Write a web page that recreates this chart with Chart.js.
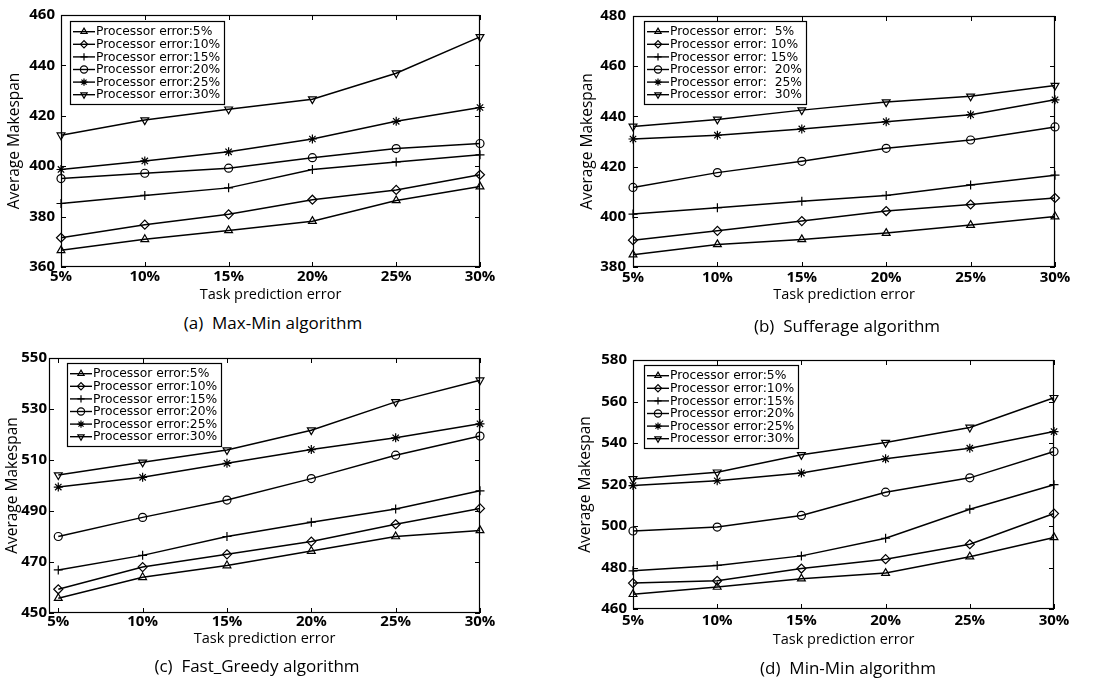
<!DOCTYPE html>
<html>
<head>
<meta charset="utf-8">
<script src="https://cdn.jsdelivr.net/npm/chart.js@4.4.1/dist/chart.umd.min.js"></script>
<style>
  body { margin: 0; background: #fff; width: 1112px; height: 679px; position: relative; overflow: hidden; font-family: 'Open Sans', sans-serif; }
  .panel { position: absolute; }
  .caption { position: absolute; font-size: 17px; color: #000; white-space: pre; transform: translate(-50%, -50%); }
</style>
</head>
<body>
<div class="panel" style="left:0;top:0"><canvas id="graficaMaxMin" width="556" height="310"></canvas></div>
<div class="panel" style="left:556px;top:0"><canvas id="graficaSufferage" width="556" height="310"></canvas></div>
<div class="panel" style="left:0;top:335px"><canvas id="graficaFastGreedy" width="556" height="335"></canvas></div>
<div class="panel" style="left:556px;top:335px"><canvas id="graficaMinMin" width="556" height="335"></canvas></div>
<div class="caption" style="left:273px;top:322px">(a)  Max-Min algorithm</div>
<div class="caption" style="left:847px;top:325px">(b)  Sufferage algorithm</div>
<div class="caption" style="left:257px;top:665px">(c)  Fast_Greedy algorithm</div>
<div class="caption" style="left:848px;top:667px">(d)  Min-Min algorithm</div>
<script>
// ========== DATOS ==========
const taskErrors = [5, 10, 15, 20, 25, 30];
const processorLabels = ['Processor error:5%', 'Processor error:10%', 'Processor error:15%',
  'Processor error:20%', 'Processor error:25%', 'Processor error:30%'];
const processorLabelsB = ['Processor error:  5%', 'Processor error: 10%', 'Processor error: 15%',
  'Processor error:  20%', 'Processor error:  25%', 'Processor error:  30%'];

const ticksMaxMin = [360, 380, 400, 420, 440, 460];
const ticksSufferage = [380, 400, 420, 440, 460, 480];
const ticksFastGreedy = [450, 470, 490, 510, 530, 550];
const ticksMinMin = [460, 480, 500, 520, 540, 560, 580];

// (a) Max-Min
const maxMinP5 = [366.6, 371, 374.5, 378.2, 386.4, 391.9];
const maxMinP10 = [371.6, 376.8, 380.9, 386.7, 390.6, 396.6];
const maxMinP15 = [385.2, 388.4, 391.4, 398.7, 401.7, 404.5];
const maxMinP20 = [395.1, 397.2, 399.2, 403.4, 407, 409];
const maxMinP25 = [398.7, 402.1, 405.7, 410.8, 417.8, 423.3];
const maxMinP30 = [412.3, 418.3, 422.6, 426.6, 436.9, 451.3];

// (b) Sufferage
const sufferageP5 = [384.9, 389, 391, 393.5, 396.7, 400.1];
const sufferageP10 = [390.7, 394.4, 398.3, 402.3, 404.9, 407.5];
const sufferageP15 = [401.1, 403.6, 406.2, 408.5, 412.7, 416.6];
const sufferageP20 = [411.7, 417.6, 422.1, 427.3, 430.6, 435.8];
const sufferageP25 = [431, 432.5, 435, 437.9, 440.7, 446.6];
const sufferageP30 = [436, 438.8, 442.5, 445.7, 448, 452.3];

// (c) Fast_Greedy
const fastGreedyP5 = [455.8, 464, 468.6, 474.3, 480, 482.4];
const fastGreedyP10 = [459.3, 468, 473, 478, 484.8, 491];
const fastGreedyP15 = [466.9, 472.6, 480, 485.6, 490.8, 497.9];
const fastGreedyP20 = [480, 487.5, 494.3, 502.7, 511.9, 519.4];
const fastGreedyP25 = [499.4, 503.2, 508.7, 514.1, 518.7, 524.2];
const fastGreedyP30 = [504.1, 509.1, 513.9, 521.7, 532.8, 541.3];

// (d) Min-Min
const minMinP5 = [467.1, 470.6, 474.6, 477.3, 485.2, 494.5];
const minMinP10 = [472.5, 473.6, 479.5, 484, 491.2, 506];
const minMinP15 = [478.4, 481, 485.6, 494.1, 508.1, 519.9];
const minMinP20 = [497.6, 499.5, 505.1, 516.3, 523.2, 535.9];
const minMinP25 = [519.5, 521.8, 525.5, 532.4, 537.5, 545.5];
const minMinP30 = [522.7, 525.9, 534.3, 540.2, 547.5, 561.8];

// ========== ESTILOS ==========
const markerStyles = ['triangle', 'rectRot', 'cross', 'circle', 'star', 'triangle'];
const markerRotation = [0, 0, 0, 0, 0, 180];
const FONT = "'Open Sans', sans-serif";
const FONT_LEYENDA = "'DejaVu Sans', sans-serif";

// marco con marcas hacia dentro (estilo matlab)
const marcoMatlab = {
  id: 'marcoMatlab',
  beforeDatasetsDraw(chart) {
    const { ctx, chartArea: a, scales } = chart;
    const len = 5;
    ctx.save();
    ctx.strokeStyle = '#000';
    ctx.lineWidth = 1.2;
    ctx.strokeRect(a.left + 0.5, a.top + 0.5, a.right - a.left - 1, a.bottom - a.top - 1);
    ctx.lineWidth = 1;
    ctx.beginPath();
    scales.x.ticks.forEach(t => {
      const x = Math.round(scales.x.getPixelForValue(t.value)) + 0.5;
      ctx.moveTo(x, a.bottom); ctx.lineTo(x, a.bottom - len);
      ctx.moveTo(x, a.top); ctx.lineTo(x, a.top + len);
    });
    scales.y.ticks.forEach(t => {
      const y = Math.round(scales.y.getPixelForValue(t.value)) + 0.5;
      ctx.moveTo(a.left, y); ctx.lineTo(a.left + len, y);
      ctx.moveTo(a.right, y); ctx.lineTo(a.right - len, y);
    });
    ctx.stroke();
    ctx.restore();
  }
};

// leyenda dentro del área, con línea y marcador
const leyendaMatlab = {
  id: 'leyendaMatlab',
  afterDraw(chart, args, opts) {
    const { ctx, chartArea: a } = chart;
    const rowH = 12.6;
    const sample = 22;
    ctx.save();
    ctx.font = '12.3px ' + FONT_LEYENDA;
    const sets = chart.data.datasets;
    const maxW = Math.max(...sets.map(d => ctx.measureText(d.label).width));
    const x0 = a.left + opts.dx;
    const y0 = a.top + opts.dy;
    const w = 3 + sample + 1 + maxW + 4;
    const h = 10.7 + rowH * (sets.length - 1) + 9.7;
    ctx.fillStyle = '#fff';
    ctx.fillRect(x0, y0, w, h);
    ctx.strokeStyle = '#000';
    ctx.lineWidth = 1.2;
    ctx.strokeRect(Math.round(x0) + 0.5, Math.round(y0) + 0.5, Math.round(w), Math.round(h));
    sets.forEach((d, i) => {
      const y = y0 + 10.7 + i * rowH;
      ctx.lineWidth = 1.4;
      ctx.beginPath();
      ctx.moveTo(x0 + 3, y); ctx.lineTo(x0 + 3 + sample, y);
      ctx.stroke();
      ctx.fillStyle = 'rgba(0,0,0,0)';
      ctx.lineWidth = 1.2;
      Chart.helpers.drawPoint(ctx, {
        pointStyle: d.pointStyle, rotation: d.pointRotation, radius: 3.6, borderWidth: 1.2
      }, x0 + 3 + sample / 2, y);
      ctx.fillStyle = '#000';
      ctx.textBaseline = 'middle';
      ctx.textAlign = 'left';
      ctx.fillText(d.label, x0 + 3 + sample + 1, y + 0.5);
    });
    ctx.restore();
  }
};

// ========== CREAR PANEL ==========
function crearPanel(cfg) {
  const canvas = document.getElementById(cfg.id);
  const w = canvas.width, h = canvas.height;
  const a = cfg.area;

  const datasets = cfg.series.map((serie, i) => ({
    label: cfg.labels[i],
    data: serie,
    borderColor: '#000',
    backgroundColor: 'rgba(0,0,0,0)',
    borderWidth: 1.5,
    pointStyle: markerStyles[i],
    pointRotation: markerRotation[i],
    pointRadius: markerStyles[i] === 'circle' ? 4 : 4.5,
    pointBorderWidth: 1.2,
    pointBorderColor: '#000',
    pointBackgroundColor: 'rgba(0,0,0,0)',
    tension: 0,
    clip: false
  }));

  return new Chart(canvas, {
    type: 'line',
    data: { labels: taskErrors, datasets: datasets },
    options: {
      responsive: false,
      animation: false,
      events: [],
      layout: { padding: { left: 0, top: a.t, right: w - a.r, bottom: 0 } },
      plugins: {
        legend: { display: false },
        tooltip: { enabled: false },
        leyendaMatlab: cfg.legend
      },
      scales: {
        x: {
          type: 'linear',
          min: cfg.xMin,
          max: 30,
          afterBuildTicks: s => { s.ticks = taskErrors.map(v => ({ value: v })); },
          afterFit: s => { s.height = h - a.b; },
          grid: { display: false, drawTicks: false, tickLength: 0 },
          border: { display: false },
          ticks: {
            color: '#000',
            font: { family: FONT, size: 15, weight: 'bold' },
            padding: cfg.xLabelCenter - a.b - 9,
            maxRotation: 0,
            autoSkip: false,
            callback: v => v + '%'
          },
          title: {
            display: true,
            text: 'Task prediction error',
            color: '#000',
            font: { family: FONT, size: 14.5 },
            padding: { top: 0, bottom: h - cfg.xTitleCenter - 8.7 }
          }
        },
        y: {
          min: cfg.yTicks[0],
          max: cfg.yTicks[cfg.yTicks.length - 1],
          afterBuildTicks: s => { s.ticks = cfg.yTicks.map(v => ({ value: v })); },
          afterFit: s => { s.width = a.l; },
          grid: { display: false, drawTicks: false, tickLength: 0 },
          border: { display: false },
          ticks: {
            color: '#000',
            font: { family: FONT, size: 15, weight: 'bold' },
            padding: cfg.yPad
          },
          title: {
            display: true,
            text: 'Average Makespan',
            color: '#000',
            font: { family: FONT, size: 15.5 },
            padding: { top: cfg.yTitleCenter - 9.3, bottom: 0 }
          }
        }
      }
    },
    plugins: [marcoMatlab, leyendaMatlab]
  });
}

Promise.all([
  document.fonts.load('14px "Open Sans"'),
  document.fonts.load('bold 14px "Open Sans"'),
  document.fonts.load('13px "DejaVu Sans"')
]).finally(() => {
  crearPanel({
    id: 'graficaMaxMin',
    series: [maxMinP5, maxMinP10, maxMinP15, maxMinP20, maxMinP25, maxMinP30],
    labels: processorLabels,
    yTicks: ticksMaxMin, xMin: 5,
    area: { l: 61, t: 14, r: 480, b: 267 },
    yPad: 6, yTitleCenter: 15, xLabelCenter: 277, xTitleCenter: 295,
    legend: { dx: 9, dy: 6 }
  });
  crearPanel({
    id: 'graficaSufferage',
    series: [sufferageP5, sufferageP10, sufferageP15, sufferageP20, sufferageP25, sufferageP30],
    labels: processorLabelsB,
    yTicks: ticksSufferage, xMin: 5,
    area: { l: 77, t: 15, r: 499, b: 267 },
    yPad: 7, yTitleCenter: 32, xLabelCenter: 278, xTitleCenter: 295,
    legend: { dx: 11, dy: 5 }
  });
  crearPanel({
    id: 'graficaFastGreedy',
    series: [fastGreedyP5, fastGreedyP10, fastGreedyP15, fastGreedyP20, fastGreedyP25, fastGreedyP30],
    labels: processorLabels,
    yTicks: ticksFastGreedy, xMin: 4.45,
    area: { l: 49, t: 23, r: 480, b: 278 },
    yPad: 2, yTitleCenter: 13, xLabelCenter: 287, xTitleCenter: 304,
    legend: { dx: 18, dy: 5 }
  });
  crearPanel({
    id: 'graficaMinMin',
    series: [minMinP5, minMinP10, minMinP15, minMinP20, minMinP25, minMinP30],
    labels: processorLabels,
    yTicks: ticksMinMin, xMin: 5,
    area: { l: 77, t: 25, r: 498, b: 274 },
    yPad: 6, yTitleCenter: 30, xLabelCenter: 286, xTitleCenter: 305,
    legend: { dx: 11, dy: 5 }
  });
});
</script>
</body>
</html>
